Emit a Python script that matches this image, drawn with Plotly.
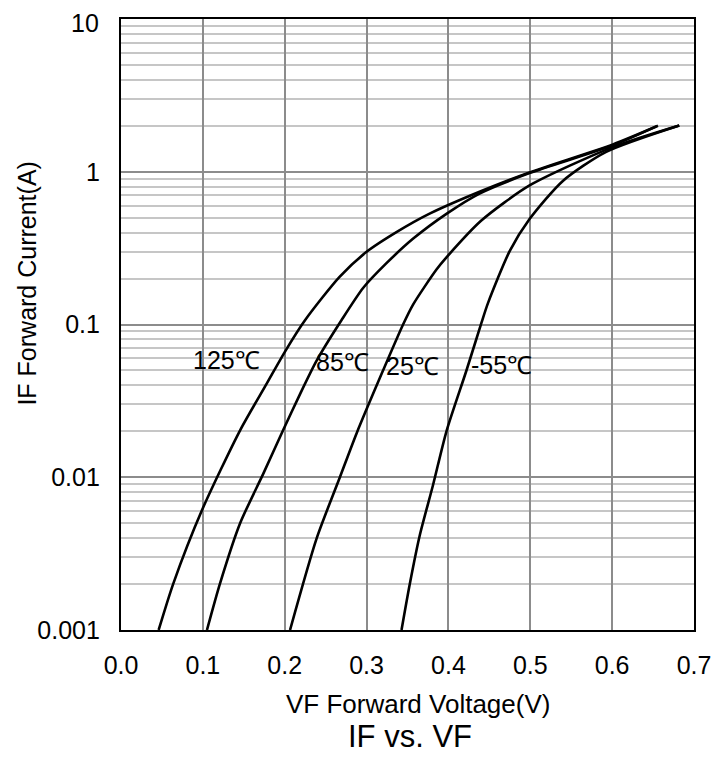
import math
import plotly.graph_objects as go

# ---- data ----
vf_125 = [0.046, 0.064, 0.099, 0.1455, 0.178, 0.200, 0.225, 0.267, 0.300, 0.337,
          0.377, 0.438, 0.499, 0.601, 0.656]
if_125 = [0.001, 0.00202, 0.0061, 0.0203, 0.041, 0.066, 0.107, 0.205, 0.299, 0.404,
          0.532, 0.74, 0.99, 1.51, 2.0]

vf_85 = [0.105, 0.121, 0.1455, 0.174, 0.198, 0.219, 0.239, 0.2695, 0.296, 0.324,
         0.357, 0.398, 0.438, 0.499, 0.601, 0.654]
if_85 = [0.001, 0.00202, 0.0050, 0.0106, 0.0203, 0.0353, 0.058, 0.107, 0.174, 0.251,
         0.365, 0.532, 0.72, 0.98, 1.49, 1.98]

vf_25 = [0.2065, 0.239, 0.2674, 0.288, 0.3202, 0.3446, 0.3568, 0.3854, 0.3976,
         0.4402, 0.4991, 0.6007, 0.682]
if_25 = [0.001, 0.00398, 0.0100, 0.0195, 0.0501, 0.100, 0.135, 0.229, 0.275,
         0.479, 0.813, 1.45, 2.01]

vf_m55 = [0.3427, 0.3528, 0.365, 0.3812, 0.3976, 0.422, 0.4402, 0.4483, 0.4748,
          0.4991, 0.5398, 0.5927, 0.682]
if_m55 = [0.001, 0.0020, 0.00417, 0.0089, 0.020, 0.050, 0.102, 0.138, 0.302,
          0.490, 0.871, 1.35, 2.01]

curve_labels = ["125℃", "85℃", "25℃", "-55℃"]
label_vf = [0.129, 0.270, 0.3565, 0.4652]
label_if = [0.059, 0.0566, 0.0531, 0.0542]

y_tickvals = [0.001, 0.01, 0.1, 1, 10]
y_ticktext = ["0.001", "0.01", "0.1", "1", "10"]
x_tickvals = [0.0, 0.1, 0.2, 0.3, 0.4, 0.5, 0.6, 0.7]

x_title = "VF Forward Voltage(V)"
y_title = "IF Forward Current(A)"
chart_title = "IF vs. VF"

FONT = "Liberation Sans, Arial, sans-serif"

fig = go.Figure()
for xs, ys in [(vf_125, if_125), (vf_85, if_85), (vf_25, if_25), (vf_m55, if_m55)]:
    fig.add_trace(go.Scatter(
        x=xs, y=ys, mode="lines",
        line=dict(color="black", width=2.6, shape="spline", smoothing=0.7),
        showlegend=False, hoverinfo="x+y",
    ))

annotations = []
for t, xv, yv in zip(curve_labels, label_vf, label_if):
    annotations.append(dict(
        x=xv, y=math.log10(yv), xref="x", yref="y", text=t, showarrow=False,
        font=dict(family=FONT, size=25, color="black"),
        xanchor="center", yanchor="middle",
    ))

# the top tick label ("10") sits against the page top; place it just inside the figure
annotations.append(dict(x=-0.036, y=1.018, xref="paper", yref="paper",
                        text=y_ticktext[-1], showarrow=False, xanchor="right",
                        yanchor="top", borderpad=0,
                        font=dict(family=FONT, size=25, color="black")))

annotations.append(dict(x=0.5186, y=-0.121, xref="paper", yref="paper", text=x_title,
                        showarrow=False, xanchor="center", yanchor="middle",
                        font=dict(family=FONT, size=26, color="black")))
annotations.append(dict(x=-0.164, y=0.567, xref="paper", yref="paper", text=y_title,
                        showarrow=False, xanchor="center", yanchor="middle", textangle=-90,
                        font=dict(family=FONT, size=25, color="black")))
annotations.append(dict(x=0.5036, y=-0.175, xref="paper", yref="paper", text=chart_title,
                        showarrow=False, xanchor="center", yanchor="middle",
                        font=dict(family=FONT, size=31, color="black")))

minor_vals = [m * 10 ** e for e in range(-3, 1) for m in range(2, 10)]

fig.update_layout(
    width=720, height=750,
    margin=dict(l=113, r=34, t=11, b=128, autoexpand=False),
    paper_bgcolor="white", plot_bgcolor="white",
    font=dict(family=FONT, size=25, color="black"),
    annotations=annotations,
    xaxis=dict(
        range=[0, 0.7], tickmode="array", tickvals=x_tickvals, tickformat=".1f",
        showgrid=True, gridcolor="#8c8c8c", gridwidth=1.6, zeroline=False,
        showline=True, linecolor="black", linewidth=2.2, mirror=True,
        ticks="outside", ticklen=0, tickcolor="white", ticklabelstandoff=12,
        tickfont=dict(family=FONT, size=25, color="black"), automargin=False,
    ),
    yaxis=dict(
        type="log", range=[-3, 1], tickmode="array", tickvals=y_tickvals[:-1],
        ticktext=y_ticktext[:-1],
        showgrid=True, gridcolor="#8c8c8c", gridwidth=1.6, zeroline=False,
        showline=True, linecolor="black", linewidth=2.2, mirror=True,
        ticks="outside", ticklen=0, tickcolor="white", ticklabelstandoff=14,
        tickfont=dict(family=FONT, size=25, color="black"), automargin=False,
        minor=dict(tickmode="array", tickvals=minor_vals, showgrid=True,
                   gridcolor="#c6c6c6", gridwidth=1.6, ticks=""),
    ),
)

fig.write_html("out.html")
